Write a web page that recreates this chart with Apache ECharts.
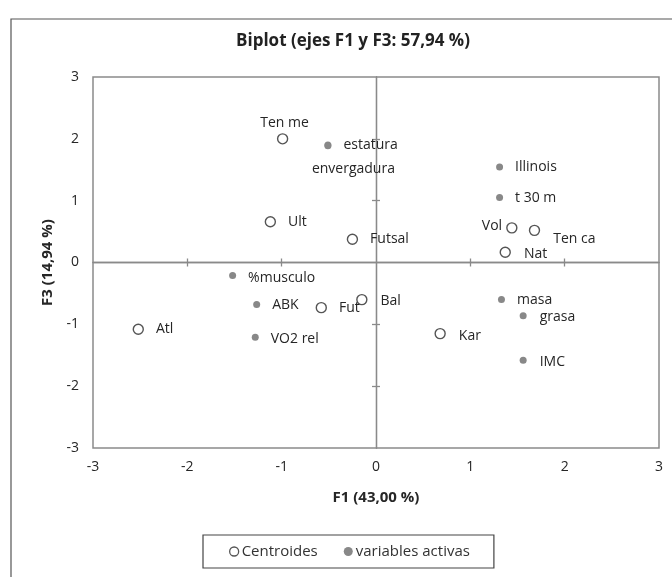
<!DOCTYPE html>
<html>
<head>
<meta charset="utf-8">
<script src="https://cdn.jsdelivr.net/npm/echarts@6/dist/echarts.min.js"></script>
<style>html,body{margin:0;padding:0;background:#fff;}#c{width:672px;height:577px;}</style>
</head>
<body>
<div id="c"></div>
<script>
// Centroids (open circles)
var centroidNames = ['Ten me', 'Ult', 'Futsal', 'Vol', 'Ten ca', 'Nat', 'Atl', 'Fut', 'Bal', 'Kar'];
var centroidF1 = [-0.99, -1.12, -0.25, 1.44, 1.68, 1.37, -2.52, -0.58, -0.15, 0.68];
var centroidF3 = [2.00, 0.66, 0.375, 0.56, 0.52, 0.165, -1.08, -0.73, -0.60, -1.15];

// Active variables (filled dots)
var varNames = ['estatura', 'envergadura', 'Illinois', 't 30 m', '%musculo', 'ABK', 'VO2 rel', 'masa', 'grasa', 'IMC'];
var varF1 = [-0.51, -0.51, 1.31, 1.31, -1.52, -1.265, -1.28, 1.33, 1.56, 1.56];
var varF3 = [1.90, 1.89, 1.545, 1.05, -0.21, -0.68, -1.21, -0.60, -0.86, -1.58];

var tickValues = [-3, -2, -1, 0, 1, 2, 3];

// label placement (style only)
var labelStyle = {
  'Ten me': {position: 'top', distance: 3, offset: [2, 0]},
  'Vol': {position: 'left', distance: 4, offset: [0, -2]},
  'Ten ca': {position: 'right', distance: 13, offset: [0, 9]},
  'Nat': {position: 'right', distance: 13, offset: [0, 2]},
  'envergadura': {position: 'inside', align: 'left', offset: [-16, 23]},
  '%musculo': {position: 'right', distance: 12, offset: [0, 3]},
  'VO2 rel': {position: 'right', distance: 12, offset: [0, 2]},
  'Bal': {position: 'right', distance: 13, offset: [0, 1]},
  'Kar': {position: 'right', distance: 13, offset: [0, 2]},
  'grasa': {position: 'right', distance: 13, offset: [0, 1]},
  'IMC': {position: 'right', distance: 13, offset: [0, 2]}
};

function build(names, xs, ys, dist) {
  return names.map(function (n, i) {
    var o = {name: n, value: [xs[i], ys[i]]};
    var ls = labelStyle[n];
    o.label = Object.assign({show: true, position: 'right', distance: dist, formatter: '{b}'}, ls || {});
    return o;
  });
}

var FONT = "'Open Sans', 'Noto Sans', sans-serif";
var txt = '#262626';
var gridCol = '#8a8a8a';

function zeroAxis() {
  return {
    type: 'value', min: -3, max: 3, interval: 1, gridIndex: 0,
    axisLine: {show: true, onZero: true, lineStyle: {color: gridCol, width: 1.3}},
    axisTick: {show: true, length: 4, customValues: [-2, -1, 1, 2], lineStyle: {color: gridCol, width: 1.3}},
    axisLabel: {show: false}, splitLine: {show: false}
  };
}

var x1 = zeroAxis(); x1.axisTick.inside = true;
var x2 = zeroAxis(); x2.axisTick.inside = false;
var y1 = zeroAxis(); y1.axisTick.inside = true;
var y2 = zeroAxis(); y2.axisTick.inside = false;

var chart = echarts.init(document.getElementById('c'), null, {renderer: 'canvas'});
chart.setOption({
  backgroundColor: '#fff',
  animation: false,
  textStyle: {fontFamily: FONT},
  graphic: [{
    type: 'polyline', silent: true,
    shape: {points: [[11, 577], [11, 19], [672, 19]]},
    style: {stroke: '#555', lineWidth: 1.2, fill: null}
  }],
  title: {
    text: 'Biplot (ejes F1 y F3: 57,94 %)',
    left: 348, top: 28, textAlign: 'center',
    textStyle: {fontFamily: FONT, fontSize: 17, fontWeight: 'bold', color: '#222'}
  },
  legend: {
    left: 203, top: 535, width: 300,
    padding: [9, 24, 9, 26],
    borderColor: '#444', borderWidth: 1.2, borderRadius: 0,
    itemWidth: 9, itemHeight: 9, itemGap: 26,
    textStyle: {fontFamily: FONT, fontSize: 15, color: '#333', padding: [0, 0, 0, -2]},
    data: [
      {name: 'Centroides', icon: 'circle', itemStyle: {color: '#fff', borderColor: '#555', borderWidth: 1.3}},
      {name: 'variables activas', icon: 'circle', itemStyle: {color: '#888'}}
    ]
  },
  grid: {
    left: 93, top: 77, width: 566, height: 371,
    show: true, borderColor: gridCol, borderWidth: 1.5, backgroundColor: 'transparent'
  },
  xAxis: [{
    type: 'value', min: tickValues[0], max: tickValues[tickValues.length - 1], interval: 1,
    position: 'bottom',
    axisLine: {show: false, onZero: false}, axisTick: {show: false}, splitLine: {show: false},
    axisLabel: {color: txt, fontSize: 14, margin: 12, fontFamily: FONT},
    name: 'F1 (43,00 %)', nameLocation: 'middle', nameGap: 42,
    nameTextStyle: {fontFamily: FONT, fontSize: 15, fontWeight: 'bold', color: txt}
  }, x1, x2],
  yAxis: [{
    type: 'value', min: tickValues[0], max: tickValues[tickValues.length - 1], interval: 1,
    position: 'left',
    axisLine: {show: false, onZero: false}, axisTick: {show: false}, splitLine: {show: false},
    axisLabel: {color: txt, fontSize: 14, margin: 14, fontFamily: FONT},
    name: 'F3 (14,94 %)', nameLocation: 'middle', nameGap: 38, nameRotate: 90,
    nameTextStyle: {fontFamily: FONT, fontSize: 15, fontWeight: 'bold', color: txt}
  }, y1, y2],
  series: [{
    name: 'Centroides', type: 'scatter', xAxisIndex: 0, yAxisIndex: 0,
    symbol: 'circle', symbolSize: 10,
    itemStyle: {color: '#fff', borderColor: '#555', borderWidth: 1.4, opacity: 1},
    label: {color: txt, fontSize: 14, fontFamily: FONT},
    data: build(centroidNames, centroidF1, centroidF3, 12),
    z: 5
  }, {
    name: 'variables activas', type: 'scatter', xAxisIndex: 0, yAxisIndex: 0,
    symbol: 'circle', symbolSize: 7,
    itemStyle: {color: '#888', opacity: 1},
    label: {color: txt, fontSize: 14, fontFamily: FONT},
    data: build(varNames, varF1, varF3, 12),
    z: 5
  }]
});
</script>
</body>
</html>
